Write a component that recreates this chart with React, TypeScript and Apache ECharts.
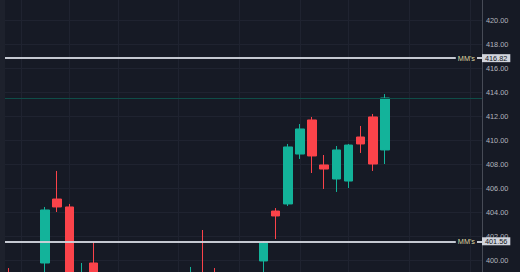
import React, { useEffect, useRef } from "react";
import * as echarts from "echarts";

// bar slot index (position on the time axis)
const slots = [-3, 0, 1, 2, 3, 4, 12, 13, 14, 18, 19, 20, 21, 22, 23, 24, 25, 26, 27, 28];
const opens = [397.4, 399.75, 405.08, 404.42, 396.6, 399.75, 396.0, 397.4, 397.3, 399.92, 404.08, 404.67, 408.83, 411.67, 407.92, 406.75, 406.58, 410.25, 411.92, 409.17];
const closes = [396.6, 404.17, 404.42, 396.8, 397.4, 396.9, 397.2, 396.5, 396.6, 401.42, 403.67, 409.42, 410.92, 408.67, 407.58, 409.17, 409.58, 409.67, 408.0, 413.5];
const lows = [396.2, 397.3, 404.0, 396.3, 396.2, 396.5, 395.6, 396.0, 396.2, 397.2, 401.75, 404.5, 408.42, 407.25, 405.92, 405.67, 406.0, 408.92, 407.42, 408.0];
const highs = [399.33, 404.42, 407.42, 404.67, 399.75, 401.5, 399.42, 402.5, 399.33, 401.58, 404.33, 409.67, 411.33, 411.92, 408.75, 409.5, 409.67, 411.17, 412.17, 413.83];

// time grid line slots
const timeGridSlots = [-2, 2, 6, 11, 16, 21, 25, 30, 35];

// price tick labels that are in view
const visibleTickMin = 400;
const visibleTickMax = 420;

// levels
const mmLevels = [416.82, 401.56];
const mmLabel = "MM's";
const lastPrice = 413.5;

const BG = "#161a25";
const UP = "#13b39a";
const DOWN = "#fb434a";
const FONT = "'Liberation Sans', Arial, sans-serif";

export default function App() {
  const ref = useRef<HTMLDivElement>(null);

  useEffect(() => {
    if (!ref.current) return;
    const chart = echarts.init(ref.current, undefined, { renderer: "svg" });

    const data = slots.map((s, i) => [s, opens[i], closes[i], lows[i], highs[i]]);

    const mmLineStyle = { color: "#d1d4dc", width: 1.5, type: "solid" as const };
    const markData: any[] = [];
    markData.push({
      yAxis: lastPrice,
      lineStyle: { color: "#0f4d48", width: 1, type: "solid" },
      label: { show: false },
    });
    mmLevels.forEach((lv) => {
      markData.push({
        yAxis: lv,
        lineStyle: mmLineStyle,
        label: {
          show: true,
          position: "insideEnd",
          formatter: mmLabel,
          color: "#dcd5a0",
          fontSize: 7.3,
          fontFamily: FONT,
          backgroundColor: BG,
          padding: [0, 2],
          distance: 5,
        },
      });
      markData.push({
        yAxis: lv,
        lineStyle: mmLineStyle,
        label: {
          show: true,
          position: "end",
          formatter: lv.toFixed(2),
          color: "#131722",
          fontSize: 7.3,
          fontFamily: FONT,
          backgroundColor: "#d1d4dc",
          padding: [0, 3],
          lineHeight: 8,
          distance: 0,
        },
      });
    });

    chart.setOption({
      animation: false,
      backgroundColor: BG,
      textStyle: { fontFamily: FONT },
      grid: {
        left: 5,
        right: 38,
        top: -4,
        bottom: -36,
        containLabel: false,
        outerBoundsMode: "none",
      },
      graphic: [
        {
          type: "rect",
          silent: true,
          shape: { x: 0, y: 0, width: 5, height: 272 },
          style: { fill: "#1d212c" },
        },
      ],
      xAxis: {
        type: "value",
        min: -3.3,
        max: 36,
        axisLine: { show: false, onZero: false },
        axisLabel: { show: false },
        axisTick: { show: false, customValues: timeGridSlots },
        splitLine: { show: true, lineStyle: { color: "#1f2330", width: 1 } },
      },
      yAxis: {
        type: "value",
        position: "right",
        min: 396,
        max: 422,
        interval: 2,
        axisLine: { show: true, onZero: false, lineStyle: { color: "#474b56", width: 1 } },
        axisTick: { show: false },
        axisLabel: {
          show: true,
          color: "#b2b5be",
          fontSize: 7.3,
          fontFamily: FONT,
          margin: 4,
          formatter: (v: number) =>
            v < visibleTickMin || v > visibleTickMax ? "" : v.toFixed(2),
        },
        splitLine: { show: true, lineStyle: { color: "#1f2330", width: 1 } },
      },
      series: [
        {
          type: "candlestick",
          barWidth: 9,
          data,
          itemStyle: {
            color: UP,
            color0: DOWN,
            borderColor: UP,
            borderColor0: DOWN,
            borderWidth: 1,
          },
          markLine: {
            symbol: "none",
            silent: true,
            animation: false,
            data: markData,
          },
        },
      ],
    });

    return () => chart.dispose();
  }, []);

  return (
    <div
      ref={ref}
      style={{ position: "fixed", left: 0, top: 0, width: 520, height: 272 }}
    />
  );
}
